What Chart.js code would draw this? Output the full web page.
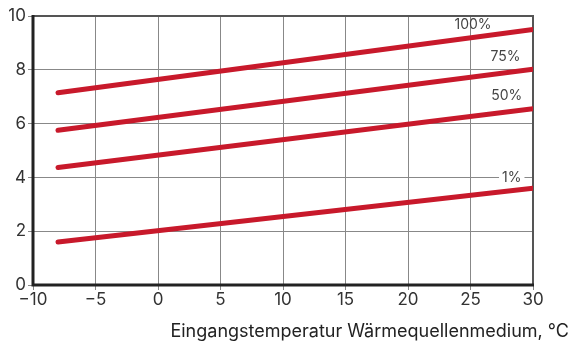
<!DOCTYPE html>
<html>
<head>
<meta charset="utf-8">
<script src="https://cdn.jsdelivr.net/npm/chart.js@4.4.1/dist/chart.umd.min.js"></script>
<style>
  html, body { margin: 0; padding: 0; background: #fff; }
  #wrap { width: 573px; height: 345px; }
</style>
</head>
<body>
<div id="wrap"><canvas id="leistung" width="573" height="345"></canvas></div>
<script>
// x values (Eingangstemperatur), same for every curve
const tempIn = [-8, 30];

// output curves at different compressor speeds
const load100 = [7.15, 9.5];
const load75 = [5.75, 8.02];
const load50 = [4.37, 6.55];
const load1 = [1.6, 3.6];

const curveLabels = ['100%', '75%', '50%', '1%'];
// where the curve labels sit, in data units
const labelX = [25.2, 27.8, 27.9, 28.3];
const labelY = [9.67, 8.47, 7.03, 4.0];

const xTicks = [-10, -5, 0, 5, 10, 15, 20, 25, 30];
const yTicks = [0, 2, 4, 6, 8, 10];

const xTitle = 'Eingangstemperatur Wärmequellenmedium, °C';

const red = '#c8192b';
const font = "Inter, 'Noto Sans', sans-serif";

function toPoints(ys) {
    return tempIn.map(function (x, i) { return { x: x, y: ys[i] }; });
}

function makeSet(ys) {
    return {
        data: toPoints(ys),
        borderColor: red,
        borderWidth: 5,
        borderCapStyle: 'round',
        pointRadius: 0,
        fill: false
    };
}

// draws frame, curve labels and the axis title
const extras = {
    id: 'extras',
    beforeDatasetsDraw: function (chart) {
        const c = chart.ctx;
        const a = chart.chartArea;
        c.save();
        // top + right border gray
        c.strokeStyle = '#555';
        c.lineWidth = 2;
        c.beginPath();
        c.moveTo(a.left, a.top);
        c.lineTo(a.right, a.top);
        c.lineTo(a.right, a.bottom);
        c.stroke();
        c.restore();
    },
    afterDatasetsDraw: function (chart) {
        const c = chart.ctx;
        const a = chart.chartArea;
        const xs = chart.scales.x, ys = chart.scales.y;
        c.save();
        // left + bottom axis black
        c.strokeStyle = '#222';
        c.lineWidth = 3;
        c.beginPath();
        c.moveTo(a.left, a.top - 1);
        c.lineTo(a.left, a.bottom);
        c.lineTo(a.right + 1, a.bottom);
        c.stroke();

        c.font = '14px ' + font;
        c.textAlign = 'center';
        c.textBaseline = 'middle';
        for (let i = 0; i < curveLabels.length; i++) {
            const px = xs.getPixelForValue(labelX[i]);
            const py = ys.getPixelForValue(labelY[i]);
            if (curveLabels[i] == '1%') {
                const w = c.measureText(curveLabels[i]).width;
                c.fillStyle = '#fff';
                c.fillRect(px - w / 2 - 3, py - 7, w + 6, 14);
            }
            c.fillStyle = '#444';
            c.fillText(curveLabels[i], px, py);
        }

        c.font = '18px ' + font;
        c.fillStyle = '#222';
        c.textAlign = 'right';
        c.textBaseline = 'alphabetic';
        c.fillText(xTitle, 569, 337);
        c.restore();
    }
};

const ctx = document.getElementById('leistung').getContext('2d');
const leistungChart = new Chart(ctx, {
    type: 'line',
    data: {
        datasets: [makeSet(load100), makeSet(load75), makeSet(load50), makeSet(load1)]
    },
    options: {
        responsive: false,
        animation: false,
        maintainAspectRatio: false,
        devicePixelRatio: 1,
        layout: { padding: { top: 16, right: 40, left: 0, bottom: 0 } },
        plugins: {
            legend: { display: false },
            tooltip: { enabled: false }
        },
        scales: {
            x: {
                type: 'linear',
                min: -10,
                max: 30,
                afterBuildTicks: function (s) { s.ticks = xTicks.map(function (v) { return { value: v }; }); },
                afterFit: function (s) { s.height = 60; },
                border: { display: false },
                grid: { color: '#888', lineWidth: 1, tickLength: 5, drawTicks: true },
                ticks: {
                    color: '#333',
                    padding: 0,
                    autoSkip: false,
                    maxRotation: 0,
                    font: { family: font, size: 17 },
                    callback: function (v) { return String(v).replace('-', '\u2212'); }
                }
            },
            y: {
                min: 0,
                max: 10,
                afterBuildTicks: function (s) { s.ticks = yTicks.map(function (v) { return { value: v }; }); },
                afterFit: function (s) { s.width = 33; },
                border: { display: false },
                grid: { color: '#888', lineWidth: 1, tickLength: 5, drawTicks: true },
                ticks: {
                    color: '#333',
                    padding: 2,
                    autoSkip: false,
                    font: { family: font, size: 17 }
                }
            }
        }
    },
    plugins: [extras]
});
</script>
</body>
</html>
